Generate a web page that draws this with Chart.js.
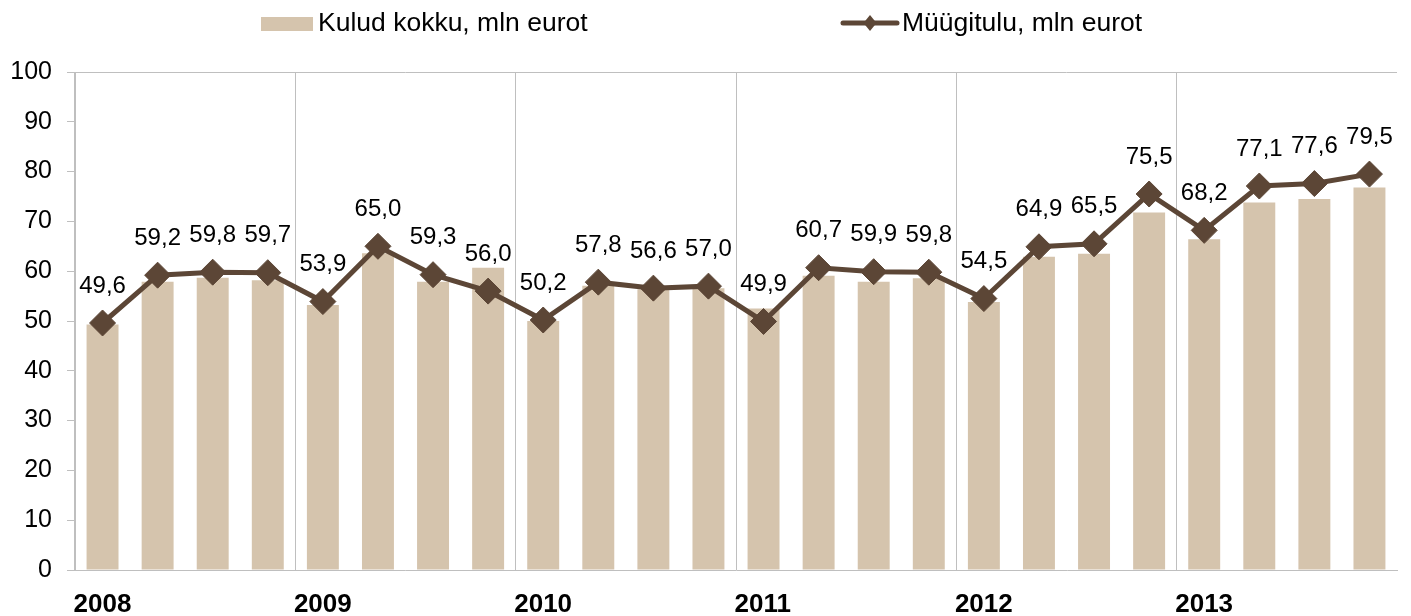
<!DOCTYPE html>
<html>
<head>
<meta charset="utf-8">
<script src="https://cdn.jsdelivr.net/npm/chart.js@4"></script>
<style>
  html, body { margin: 0; padding: 0; background: #fff; }
  canvas { display: block; }
</style>
</head>
<body>
<canvas id="chart" width="1411" height="616"></canvas>
<script>
// andmed
const years = ['2008', '2009', '2010', '2011', '2012', '2013'];
const quarters = years.flatMap(y => [y, y, y, y]);
const kulud = [49.3, 57.9, 58.7, 58.2, 53.2, 63.6, 57.9, 60.7,
               50.0, 57.1, 56.4, 56.6, 52.5, 59.1, 57.9, 58.6,
               53.8, 62.9, 63.5, 71.8, 66.4, 73.8, 74.5, 76.8];
const myygitulu = [49.6, 59.2, 59.8, 59.7, 53.9, 65.0, 59.3, 56.0,
                   50.2, 57.8, 56.6, 57.0, 49.9, 60.7, 59.9, 59.8,
                   54.5, 64.9, 65.5, 75.5, 68.2, 77.1, 77.6, 79.5];
const yTicks = [0, 10, 20, 30, 40, 50, 60, 70, 80, 90, 100];

const barColor = '#d5c4ad';
const lineColor = '#5c4636';
const gridColor = '#bfbfbf';
const font = 'Liberation Sans, Arial, sans-serif';

const fmt = v => v.toFixed(1).replace('.', ',');

// raam, legend ja väärtuste sildid
const extras = {
  id: 'extras',
  afterDraw(chart) {
    const ctx = chart.ctx;
    const a = chart.chartArea;
    ctx.save();
    ctx.strokeStyle = gridColor;
    ctx.lineWidth = 1;
    ctx.beginPath();
    ctx.moveTo(a.left, a.top + 0.5);
    ctx.lineTo(a.right, a.top + 0.5);
    ctx.stroke();

    // sildid joone punktide kohal
    const meta = chart.getDatasetMeta(0);
    ctx.fillStyle = '#000';
    ctx.font = '24px ' + font;
    ctx.textAlign = 'center';
    ctx.textBaseline = 'middle';
    meta.data.forEach((pt, i) => {
      ctx.fillText(fmt(myygitulu[i]), pt.x, pt.y - 37);
    });

    // legend
    ctx.font = '26.5px ' + font;
    ctx.textAlign = 'left';
    ctx.fillStyle = barColor;
    ctx.fillRect(261, 17, 52, 14);
    ctx.fillStyle = '#000';
    ctx.fillText(chart.data.datasets[1].label, 318, 24);

    ctx.strokeStyle = lineColor;
    ctx.lineWidth = 5;
    ctx.lineCap = 'round';
    ctx.beginPath();
    ctx.moveTo(843, 23);
    ctx.lineTo(897, 23);
    ctx.stroke();
    ctx.fillStyle = lineColor;
    ctx.beginPath();
    ctx.moveTo(870, 15); ctx.lineTo(876.5, 23); ctx.lineTo(870, 31); ctx.lineTo(863.5, 23);
    ctx.closePath();
    ctx.fill();
    ctx.fillStyle = '#000';
    ctx.fillText(chart.data.datasets[0].label, 902, 24);
    ctx.restore();
  }
};

new Chart(document.getElementById('chart'), {
  data: {
    labels: quarters,
    datasets: [{
      type: 'line',
      label: 'Müügitulu, mln eurot',
      data: myygitulu,
      borderColor: lineColor,
      backgroundColor: lineColor,
      borderWidth: 5,
      pointStyle: 'rectRot',
      pointRadius: 13,
      pointBorderWidth: 1,
      pointBackgroundColor: lineColor,
      tension: 0,
      order: 0
    }, {
      type: 'bar',
      label: 'Kulud kokku, mln eurot',
      data: kulud,
      backgroundColor: barColor,
      barPercentage: 0.58,
      categoryPercentage: 1,
      order: 1
    }]
  },
  options: {
    responsive: false,
    animation: false,
    layout: { padding: { top: 72, right: 13, left: 0, bottom: 0 } },
    plugins: { legend: { display: false }, tooltip: { enabled: false } },
    scales: {
      x: {
        offset: true,
        grid: {
          offset: true,
          drawTicks: false,
          color: c => (c.index % 4 === 0 ? gridColor : 'rgba(0,0,0,0)')
        },
        border: { color: gridColor },
        ticks: {
          autoSkip: false,
          maxRotation: 0,
          align: 'start',
          labelOffset: -29,
          padding: 19,
          color: '#000',
          font: { family: font, size: 26, weight: 'bold' },
          callback: (v, i) => (i % 4 === 0 ? quarters[i] : '')
        },
        afterFit: s => { s.height = 46; }
      },
      y: {
        min: 0,
        max: 100,
        afterBuildTicks: s => { s.ticks = yTicks.map(v => ({ value: v })); },
        grid: { drawOnChartArea: false, tickLength: 8, color: gridColor },
        border: { color: gridColor },
        ticks: {
          padding: 15,
          color: '#000',
          font: { family: font, size: 25 }
        },
        afterFit: s => { s.width = 75; }
      }
    }
  },
  plugins: [extras]
});
</script>
</body>
</html>
